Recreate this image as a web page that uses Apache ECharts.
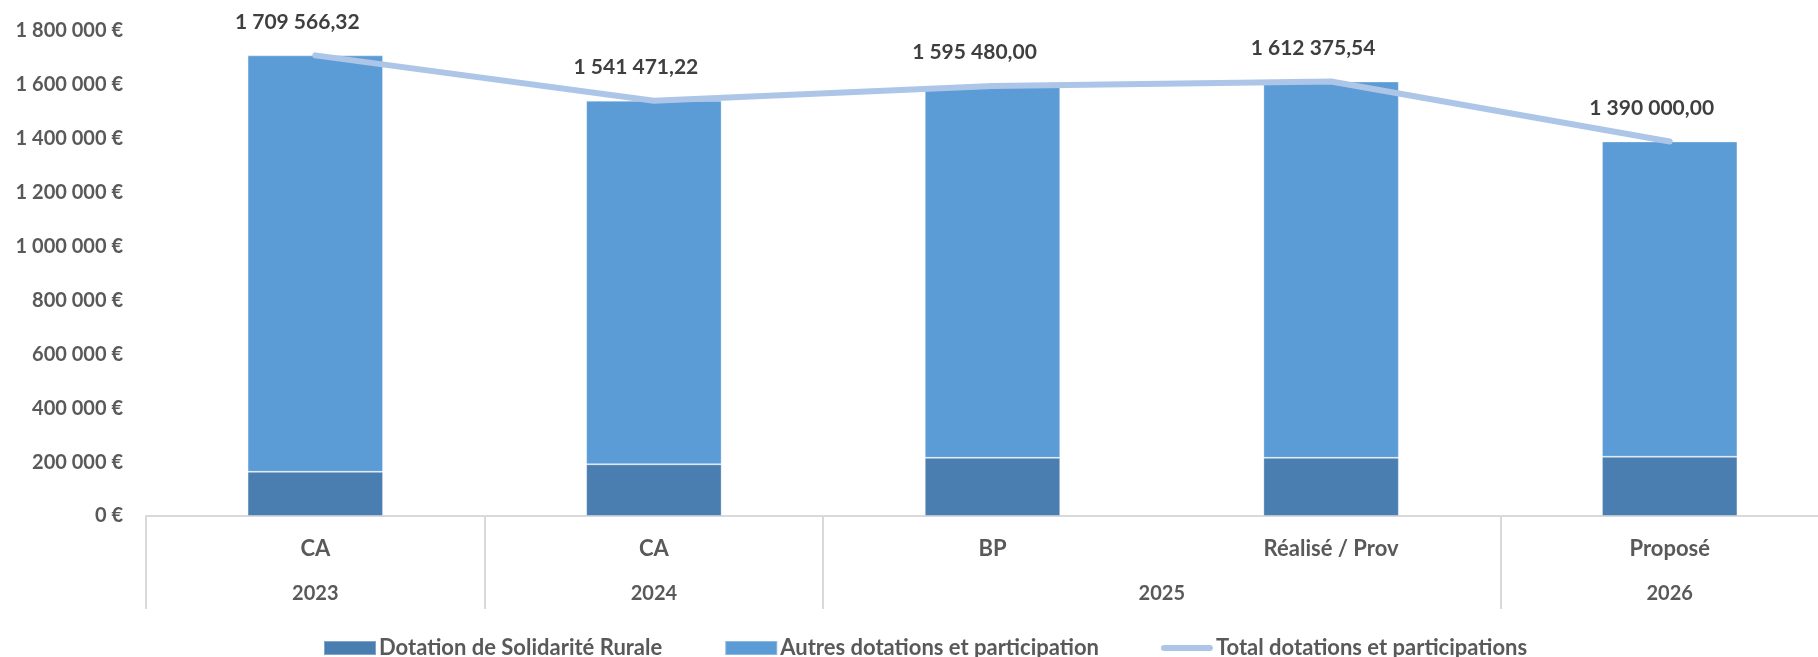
<!DOCTYPE html>
<html>
<head>
<meta charset="utf-8">
<script src="https://cdn.jsdelivr.net/npm/echarts@6/dist/echarts.min.js"></script>
<style>
  html, body { margin: 0; padding: 0; background: #fff; overflow: hidden; }
  /* le graphique d'origine est rogné à droite : on dessine plus large */
  #chart { width: 1840px; height: 657px; }
</style>
</head>
<body>
<div id="chart"></div>
<script>
// données
const categories = ['CA', 'CA', 'BP', 'Réalisé / Prov', 'Proposé']
const years = ['2023', '2024', '2025', '2026']
const yearPositions = [0.5, 1.5, 3, 4.5]
const yearBoundaries = [0, 1, 2, 4]
const dotationSolidariteRurale = [164000, 192000, 216000, 216000, 220000]
const autresDotations = [1545566, 1349471, 1379480, 1396376, 1170000]
const totalDotations = [1709566.32, 1541471.22, 1595480.00, 1612375.54, 1390000.00]

const FONT = 'Lato, "Open Sans", sans-serif'
const LINE_COLOR = '#adc6e8'

// format français : 1 709 566,32
const frNumber = (v, decimals) => {
  const parts = v.toFixed(decimals).split('.')
  const intPart = parts[0].replace(/\B(?=(\d{3})+(?!\d))/g, ' ')
  return parts.length > 1 ? intPart + ',' + parts[1] : intPart
}

const chart = echarts.init(document.getElementById('chart'))

const option = {
  backgroundColor: '#ffffff',
  animation: false,
  textStyle: { fontFamily: FONT },
  legend: {
    left: 318,
    top: 632,
    itemWidth: 52,
    itemHeight: 14,
    itemGap: 62,
    textStyle: {
      color: '#595959',
      fontSize: 22,
      fontWeight: 'bold',
      fontFamily: FONT,
      padding: [0, 0, 0, -2]
    },
    data: [
      { name: 'Dotation de Solidarité Rurale', icon: 'rect' },
      { name: 'Autres dotations et participation', icon: 'rect' },
      {
        name: 'Total dotations et participations',
        icon: 'path://M3,0 L49,0 A3,3 0 0 1 49,6 L3,6 A3,3 0 0 1 3,0 Z',
        itemStyle: { color: LINE_COLOR, opacity: 1 }
      }
    ]
  },
  grid: {
    left: 146,
    top: 31,
    width: 1693,
    height: 485,
    containLabel: false
  },
  xAxis: [
    {
      type: 'category',
      data: categories,
      position: 'bottom',
      axisLine: { show: true, lineStyle: { color: '#d9d9d9', width: 2 } },
      axisTick: { show: false },
      axisLabel: {
        interval: 0,
        margin: 22,
        color: '#595959',
        fontSize: 22,
        fontWeight: 'bold',
        fontFamily: FONT
      },
      splitLine: { show: false }
    },
    {
      type: 'value',
      min: 0,
      max: 5,
      position: 'bottom',
      axisLine: { show: false },
      axisTick: {
        show: true,
        customValues: yearBoundaries,
        length: 93,
        lineStyle: { color: '#d9d9d9', width: 2 }
      },
      axisLabel: {
        show: true,
        customValues: yearPositions,
        margin: 68,
        color: '#595959',
        fontSize: 20,
        fontWeight: 'bold',
        fontFamily: FONT,
        formatter: (value) => {
          const i = yearPositions.indexOf(value)
          return i >= 0 ? years[i] : ''
        }
      },
      splitLine: { show: false }
    }
  ],
  yAxis: {
    type: 'value',
    min: 0,
    max: 1800000,
    interval: 200000,
    axisLine: { show: false },
    axisTick: { show: false },
    splitLine: { show: false },
    axisLabel: {
      margin: 23,
      color: '#595959',
      fontSize: 20,
      fontWeight: 'bold',
      fontFamily: FONT,
      formatter: (v) => frNumber(v, 0) + ' €'
    }
  },
  series: [
    {
      name: 'Dotation de Solidarité Rurale',
      type: 'bar',
      stack: 'total',
      barWidth: '40%',
      data: dotationSolidariteRurale,
      itemStyle: {
        color: '#4a7eb0',
        borderColor: 'rgba(255,255,255,0.3)',
        borderWidth: 1
      }
    },
    {
      name: 'Autres dotations et participation',
      type: 'bar',
      stack: 'total',
      barWidth: '40%',
      data: autresDotations,
      itemStyle: {
        color: '#5b9bd6',
        borderColor: 'rgba(255,255,255,0.3)',
        borderWidth: 1
      }
    },
    {
      name: 'Total dotations et participations',
      type: 'line',
      data: totalDotations,
      symbol: 'circle',
      symbolSize: 2,
      showSymbol: true,
      z: 5,
      lineStyle: {
        color: LINE_COLOR,
        width: 6,
        cap: 'round',
        join: 'round'
      },
      itemStyle: { color: LINE_COLOR },
      label: {
        show: true,
        position: 'top',
        distance: 22,
        offset: [-18, 0],
        color: '#3f3f3f',
        fontSize: 21,
        fontWeight: 'bold',
        fontFamily: FONT,
        formatter: (p) => frNumber(p.value, 2)
      }
    }
  ]
}

chart.setOption(option)
</script>
</body>
</html>
